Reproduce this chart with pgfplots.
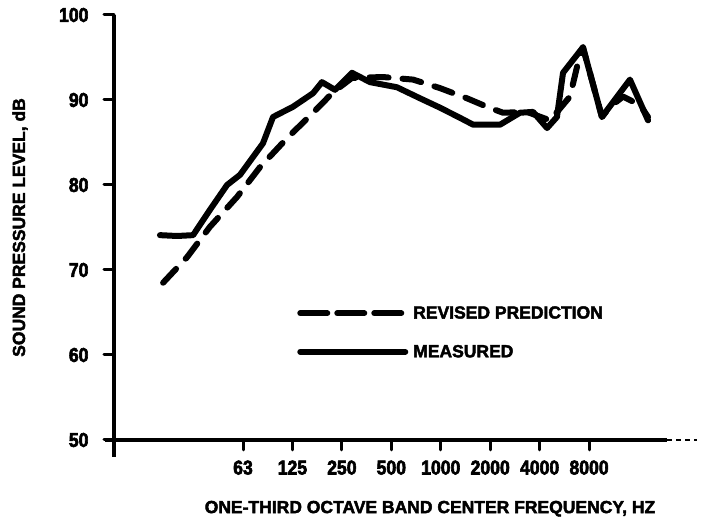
\documentclass[border=0pt]{standalone}
\usepackage{pgfplots}
\pgfplotsset{compat=1.18}
\usepackage{fontspec}
\setmainfont{Liberation Sans}
\newfontfamily\labfont{Liberation Sans}[UprightFont={* Bold}, FakeBold=2.5]
\newfontfamily\tickfont{Liberation Sans}[UprightFont={* Bold}, FakeStretch=0.88, FakeBold=3]

% x: one-third octave band number (63 Hz = 0, 125 Hz = 3, ...); y: SPL in dB
\pgfplotstableread{
band  spl
-4.85 68.5
-3.40 71.5
-2.00 75.1
-0.36 78.6
 1.03 82.1
 2.67 85.5
 4.25 88.5
 5.46 90.9
 6.61 92.6
 8.50 92.7
10.32 92.4
11.95 91.4
13.59 90.2
14.81 89.2
15.78 88.5
17.23 88.6
18.63 87.6
19.84 90.4
20.33 94.4
20.63 96.2
21.78 88.0
22.27 89.2
23.06 90.4
24.09 89.4
24.58 88.0
}\predicted

\pgfplotstableread{
band  spl
-5.04 74.1
-4.00 74.0
-3.03 74.1
-2.00 77.1
-0.97 80.0
-0.18 81.2
 1.21 84.9
 1.82 88.0
 3.03 89.2
 4.25 90.8
 4.79 92.1
 5.58 91.2
 6.61 93.2
 7.71 92.1
 9.34 91.5
10.74 90.2
11.95 89.1
13.17 87.9
13.96 87.1
15.60 87.1
16.81 88.5
17.60 88.6
18.45 86.7
19.05 88.0
19.42 93.2
20.63 96.2
21.78 88.0
23.48 92.4
24.58 87.6
}\measured

\begin{document}
\begin{tikzpicture}
\useasboundingbox (0,0) rectangle (724pt,524pt);
\begin{axis}[
  at={(114pt,84pt)}, anchor=south west,
  scale only axis, width=583pt, height=425pt,
  xmin=-7.83, xmax=27.55, ymin=50, ymax=100,
  axis x line*=bottom, axis y line*=left,
  axis line style={draw=none},
  clip=false,
  xtick={0,3,...,21},
  xticklabels={63,125,250,500,1000,2000,4000,8000},
  ytick={50,60,...,100},
  tick align=outside, major tick length=10pt,
  tick style={line width=3pt, black, line cap=round},
  ticklabel style={font=\tickfont\fontsize{20}{20}\selectfont},
  xticklabel style={yshift=-7pt},
  yticklabel style={xshift=-12pt},
  /pgf/number format/assume math mode=true,
  xlabel={ONE-THIRD OCTAVE BAND CENTER FREQUENCY, HZ},
  ylabel={SOUND PRESSURE LEVEL, dB},
  label style={font=\labfont\fontsize{17.5}{17.5}\selectfont},
  xlabel style={at={(axis description cs:0.542,-0.172)}, anchor=base},
  ylabel style={at={(axis description cs:-0.1527,0.5)}, anchor=base},
  legend cell align=left,
  legend style={
    at={(axis description cs:0.314,0.315)}, anchor=north west,
    draw=none, fill=none, inner sep=0pt,
    font=\labfont\fontsize{17.5}{17.5}\selectfont,
    row sep=25pt,
    nodes={inner sep=0pt},
    /tikz/every odd column/.append style={column sep=5pt},
  },
]
% axis frame
\draw[line width=3.5pt] (axis cs:-8.37,50) -- (axis cs:25.73,50);
\draw[line width=2pt, dash pattern=on 5pt off 4pt] (axis cs:25.73,50) -- (axis cs:27.55,50);
\draw[line width=3.5pt] (axis cs:-7.83,100) -- (axis cs:-7.83,48);

\addplot[black, line width=6pt, line cap=round, line join=round,
  dash pattern=on 19pt off 14pt,
  legend image code/.code={\draw[black, line width=6pt, line cap=round,
    dash pattern=on 27pt off 10pt] (0pt,0pt) -- (105pt,0pt);}]
  table[x=band, y=spl] {\predicted};
\addlegendentry{REVISED PREDICTION}

\addplot[black, line width=6pt, line cap=round, line join=round,
  legend image code/.code={\draw[black, line width=6pt, line cap=round]
    (0pt,0pt) -- (105pt,0pt);}]
  table[x=band, y=spl] {\measured};
\addlegendentry{MEASURED}
\end{axis}
\end{tikzpicture}
\end{document}
